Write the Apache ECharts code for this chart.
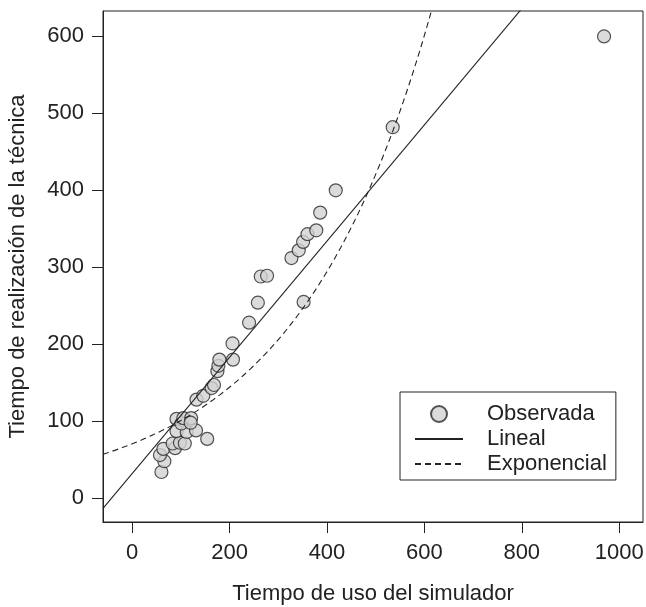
<!DOCTYPE html>
<html>
<head>
<meta charset="utf-8">
<script src="https://cdn.jsdelivr.net/npm/echarts@6/dist/echarts.min.js"></script>
<style>
  html, body { margin: 0; padding: 0; background: #fff; }
  #chart { width: 646px; height: 607px; }
</style>
</head>
<body>
<div id="chart"></div>
<script>
// observed points: simulator time (x) vs technique time (y)
const usoSimulador = [60, 66, 57, 64, 88, 83, 98, 108, 154, 91, 112, 131, 91, 101, 105, 121, 120,
  132, 146, 163, 168, 175, 177, 179, 207, 206, 240, 258, 352, 264, 277, 327, 342, 351, 360, 378,
  386, 418, 535, 969];
const tiempoTecnica = [34, 48, 56, 64, 65, 71, 72, 71, 77, 87, 86, 88, 103, 97, 104, 104, 98,
  128, 133, 143, 147, 165, 172, 180, 180, 201, 228, 254, 255, 288, 289, 312, 322, 333, 343, 348,
  371, 400, 482, 600];

// fitted models
const linIntercept = 32;
const linSlope = 0.755;
const expA = 70.6;
const expB = 0.00357;

const xTicks = [0, 200, 400, 600, 800, 1000];
const yTicks = [0, 100, 200, 300, 400, 500, 600];

const xMin = -60, xMax = 1049;
const yMin = -31, yMax = 633;

const observed = usoSimulador.map((x, i) => [x, tiempoTecnica[i]]);
const linealLine = [xMin, xMax].map(x => [x, linIntercept + linSlope * x]);
const expLine = [];
for (let x = xMin; x <= 640; x += 4) {
  expLine.push([x, expA * Math.exp(expB * x)]);
}

const chartDom = document.getElementById('chart');
const myChart = echarts.init(chartDom);

const font = 'Liberation Sans, Arial, Helvetica, sans-serif';
const ink = '#222';
const hideMarker = { color: 'transparent', borderColor: 'transparent', opacity: 0 };

const option = {
  backgroundColor: '#fff',
  animation: false,
  textStyle: { fontFamily: font, color: ink },
  grid: {
    left: 103, right: 3, top: 11, bottom: 85,
    outerBoundsMode: 'none',
    containLabel: false,
    show: true, borderColor: ink, borderWidth: 1
  },
  legend: {
    orient: 'vertical',
    left: 400, top: 392,
    padding: [11, 9, 5, 14],
    borderColor: ink, borderWidth: 1, borderRadius: 0,
    itemWidth: 48, itemHeight: 16, itemGap: 3,
    textStyle: { fontFamily: font, fontSize: 22, color: ink, lineHeight: 22, padding: [0, 0, 0, 19] },
    data: [
      { name: 'Observada' },
      { name: 'Lineal', itemStyle: hideMarker },
      { name: 'Exponencial', itemStyle: hideMarker }
    ]
  },
  xAxis: {
    type: 'value', min: xMin, max: xMax,
    name: 'Tiempo de uso del simulador',
    nameLocation: 'middle', nameGap: 61,
    nameTextStyle: { fontSize: 22, color: ink, fontFamily: font },
    axisLine: { show: true, onZero: false, lineStyle: { color: ink, width: 1 } },
    axisTick: { show: true, inside: false, length: 11, customValues: xTicks, lineStyle: { color: ink, width: 1 } },
    axisLabel: {
      fontSize: 22, color: ink, margin: 20, customValues: xTicks,
      formatter: v => String(v)
    },
    splitLine: { show: false }
  },
  yAxis: {
    type: 'value', min: yMin, max: yMax,
    name: 'Tiempo de realización de la técnica',
    nameLocation: 'middle', nameGap: 74,
    nameTextStyle: { fontSize: 22, color: ink, fontFamily: font },
    axisLine: { show: true, onZero: false, lineStyle: { color: ink, width: 1 } },
    axisTick: { show: true, inside: false, length: 11, customValues: yTicks, lineStyle: { color: ink, width: 1 } },
    axisLabel: {
      fontSize: 22, color: ink, margin: 19, customValues: yTicks,
      formatter: v => String(v)
    },
    splitLine: { show: false }
  },
  series: [
    {
      name: 'Observada',
      type: 'scatter',
      data: observed,
      symbol: 'circle',
      symbolSize: 13,
      itemStyle: { color: '#d2d2d2', borderColor: '#2a2a2a', borderWidth: 1.2 },
      z: 2
    },
    {
      name: 'Lineal',
      type: 'line',
      data: linealLine,
      symbol: 'none',
      lineStyle: { color: ink, width: 1.1, type: 'solid' },
      itemStyle: { color: ink },
      z: 3
    },
    {
      name: 'Exponencial',
      type: 'line',
      data: expLine,
      symbol: 'none',
      lineStyle: { color: ink, width: 1.1, type: [6, 4] },
      itemStyle: { color: ink },
      z: 3
    }
  ]
};

option && myChart.setOption(option);
</script>
</body>
</html>
